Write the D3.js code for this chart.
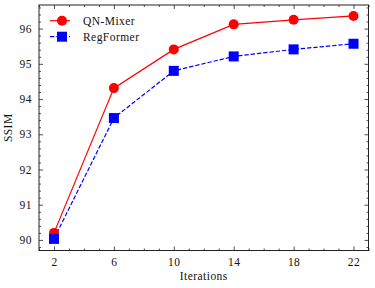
<!DOCTYPE html>
<html>
<head>
<meta charset="utf-8">
<script src="https://cdn.jsdelivr.net/npm/d3@7"></script>
<style>
body { margin: 0; background: #fff; }
svg text { font-family: "Liberation Serif", serif; font-size: 11.5px; letter-spacing: 0.45px; fill: #111; }
</style>
</head>
<body>
<svg id="chart" width="375" height="288"></svg>
<script>
var iterations = [2, 6, 10, 14, 18, 22];
var qnMixer = [90.2, 94.31, 95.41, 96.12, 96.25, 96.36];
var regFormer = [90.03, 93.46, 94.8, 95.21, 95.41, 95.57];
var xTicks = [2, 6, 10, 14, 18, 22];
var yTicks = [90, 91, 92, 93, 94, 95, 96];

var svg = d3.select("#chart"),
    margin = {left: 39, right: 6.5, top: 5, bottom: 37.5},
    width = 375 - margin.left - margin.right,
    height = 288 - margin.top - margin.bottom;

var x = d3.scaleLinear().domain([1, 23]).range([0, width]);
var y = d3.scaleLinear().domain([89.7, 96.67]).range([height, 0]);

var g = svg.append("g").attr("transform", "translate(" + margin.left + "," + margin.top + ")");

// inward ticks on all four sides
var xMinor = d3.range(1, 24, 1).filter(function (d) { return xTicks.indexOf(d) < 0; });
var yMinor = d3.range(89.8, 96.67, 0.2).filter(function (d) { return Math.abs(d - Math.round(d)) > 0.05; });

function ticks(axisFn, scale, vals, size, tx, withLabels) {
  var a = g.append("g").attr("transform", tx)
    .call(axisFn(scale).tickValues(vals).tickSizeInner(-size).tickSizeOuter(0)
      .tickPadding(withLabels ? 7 : 0)
      .tickFormat(withLabels ? d3.format("d") : ""));
  a.select(".domain").remove();
  a.selectAll("line").attr("stroke", "#222").attr("stroke-width", 0.8);
  return a;
}
ticks(d3.axisBottom, x, xTicks, 4, "translate(0," + height + ")", true);
ticks(d3.axisBottom, x, xMinor, 2, "translate(0," + height + ")", false);
ticks(d3.axisTop, x, xTicks, 4, "translate(0,0)", false);
ticks(d3.axisTop, x, xMinor, 2, "translate(0,0)", false);
ticks(d3.axisLeft, y, yTicks, 4, "translate(0,0)", true);
ticks(d3.axisLeft, y, yMinor, 2, "translate(0,0)", false);
ticks(d3.axisRight, y, yTicks, 4, "translate(" + width + ",0)", false);
ticks(d3.axisRight, y, yMinor, 2, "translate(" + width + ",0)", false);

g.append("rect").attr("width", width).attr("height", height)
  .attr("fill", "none").attr("stroke", "#222").attr("stroke-width", 1);

var line = d3.line().x(function (d) { return x(d[0]); }).y(function (d) { return y(d[1]); });
var qnData = d3.zip(iterations, qnMixer);
var rfData = d3.zip(iterations, regFormer);

g.append("path").datum(qnData).attr("d", line)
  .attr("fill", "none").attr("stroke", "#ff0000").attr("stroke-width", 1.2);
g.append("path").datum(rfData).attr("d", line)
  .attr("fill", "none").attr("stroke", "#0000ff").attr("stroke-width", 1.2)
  .attr("stroke-dasharray", "4.4,1.9");

g.selectAll(".qn").data(qnData).enter().append("circle")
  .attr("cx", function (d) { return x(d[0]); })
  .attr("cy", function (d) { return y(d[1]); })
  .attr("r", 5).attr("fill", "#ff0000");
g.selectAll(".rf").data(rfData).enter().append("rect")
  .attr("x", function (d) { return x(d[0]) - 5; })
  .attr("y", function (d) { return y(d[1]) - 5; })
  .attr("width", 10).attr("height", 10).attr("fill", "#0000ff");

// legend
var leg = g.append("g").attr("transform", "translate(11,15.7)");
leg.append("line").attr("x1", 0).attr("x2", 20).attr("stroke", "#ff0000").attr("stroke-width", 1.2);
leg.append("circle").attr("cx", 12).attr("r", 5).attr("fill", "#ff0000");
leg.append("text").attr("x", 33).attr("dy", "0.35em").text("QN-Mixer");
leg.append("line").attr("x1", 0).attr("x2", 20).attr("y1", 16).attr("y2", 16)
  .attr("stroke", "#0000ff").attr("stroke-width", 1.2).attr("stroke-dasharray", "4.4,1.9");
leg.append("rect").attr("x", 7).attr("y", 11).attr("width", 10).attr("height", 10).attr("fill", "#0000ff");
leg.append("text").attr("x", 33).attr("y", 16).attr("dy", "0.35em").text("RegFormer");

// axis labels
svg.append("text").attr("x", margin.left + width / 2).attr("y", 280)
  .attr("text-anchor", "middle").text("Iterations");
svg.append("text").attr("transform", "translate(12," + (margin.top + height / 2) + ") rotate(-90)")
  .attr("text-anchor", "middle").text("SSIM");
</script>
</body>
</html>
